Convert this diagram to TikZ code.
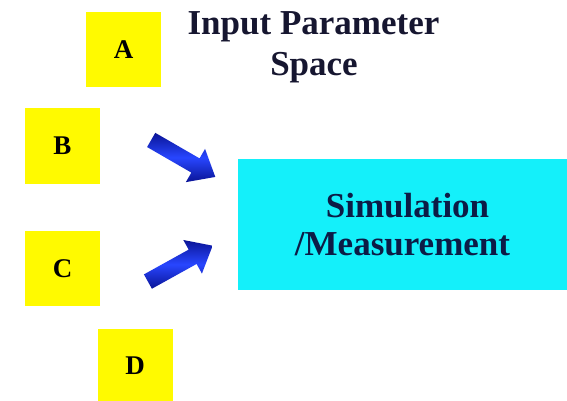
\documentclass[tikz,border=0pt]{standalone}
\usepackage{fontspec}
\setmainfont{Liberation Serif}
\usetikzlibrary{shapes.arrows}
\definecolor{boxyellow}{RGB}{255,250,0}
\definecolor{boxcyan}{RGB}{20,240,250}
\definecolor{inktext}{RGB}{22,22,48}
\definecolor{navytext}{RGB}{12,28,70}
\definecolor{arrowdark}{RGB}{10,20,150}
\definecolor{arrowlight}{RGB}{40,70,255}
\tikzset{
  param/.style={fill=boxyellow, draw=none, inner sep=0pt,
    minimum width=75pt, minimum height=75pt,
    font=\fontsize{27}{30}\selectfont\bfseries, text=black},
  system/.style={fill=boxcyan, draw=none, inner sep=0pt,
    minimum width=329pt, minimum height=131pt, align=center,
    font=\fontsize{35}{38}\selectfont\bfseries, text=navytext},
  heading/.style={anchor=base, inner sep=0pt,
    font=\fontsize{35}{40}\selectfont\bfseries, text=inktext},
  blockarrow/.style={single arrow, draw=none, inner sep=8pt,
    minimum height=74pt,
    single arrow head extend=11pt, single arrow head indent=0pt,
    single arrow tip angle=80,
    top color=arrowdark, bottom color=arrowdark, middle color=arrowlight}
}
\begin{document}
\begin{tikzpicture}[x=1pt, y=-1pt]
  \useasboundingbox[fill=white] (0,0) rectangle (567,401);

  % input parameters
  \node[param] (pa) at (123.5,50) {A};
  \node[param] (pb) at (62.5,146) {B};
  \node[param] (pc) at (62.5,268.5) {C};
  \node[param] (pd) at (135,366) {D};

  % heading
  \node[heading] (title1) at (313.5,35) {Input Parameter};
  \node[heading] (title2) at (314,76) {Space};

  % simulation block
  \node[system] (sim) at (402.5,224.5) {\hspace*{10pt}Simulation\\/Measurement};

  % block arrows into the simulation
  \node[blockarrow, rotate=-30] (arrb) at (179,156) {};
  \node[blockarrow, rotate=29] (arrc) at (176,266) {};
\end{tikzpicture}
\end{document}
